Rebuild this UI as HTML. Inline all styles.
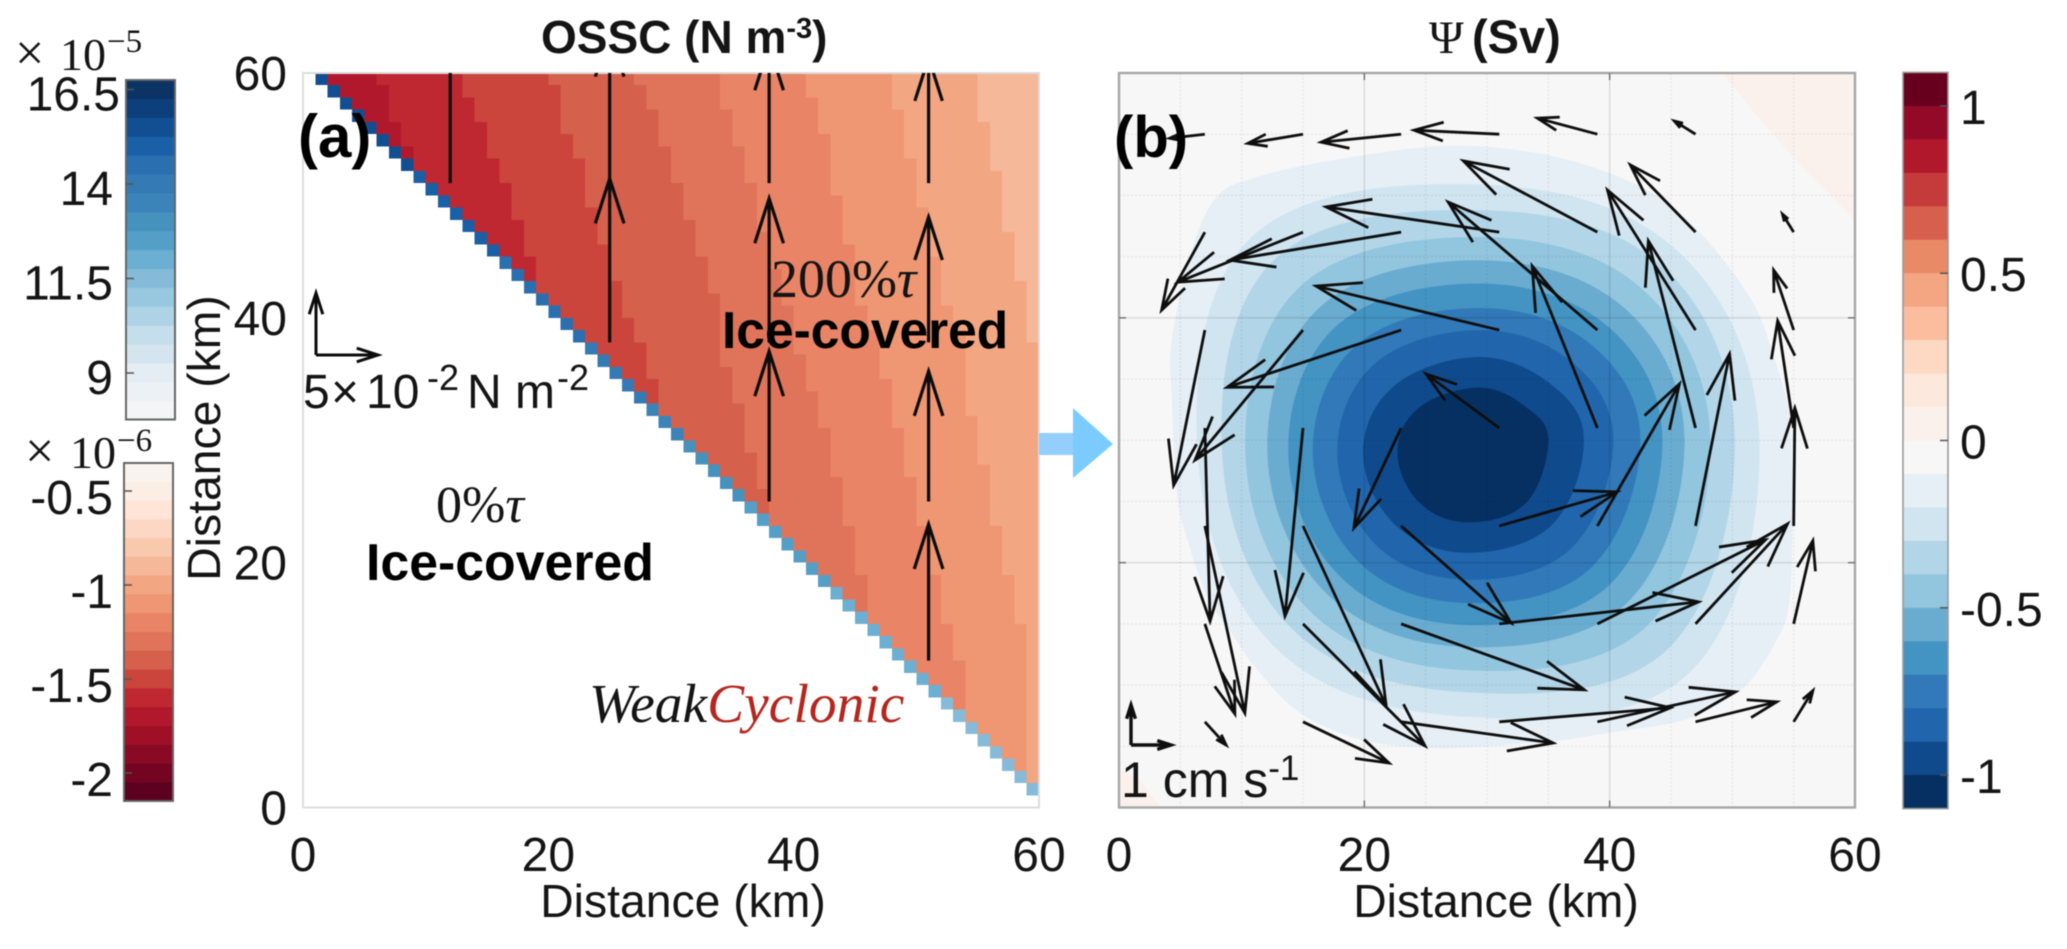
<!DOCTYPE html>
<html lang="en">
<head>
<meta charset="utf-8">
<title>OSSC and streamfunction panels</title>
<style>
  html, body { margin: 0; padding: 0; background: #fff; }
  #figure { display: block; filter: blur(0.55px); }
  text { font-family: "Liberation Sans", sans-serif; fill: #141414; }
  .tick { font-size: 48px; }
  .label { font-size: 46.3px; }
  .serif { font-family: "Liberation Serif", serif; }
</style>
</head>
<body>
<svg id="figure" xmlns="http://www.w3.org/2000/svg" width="2067" height="949" viewBox="0 0 2067 949">
  <defs>
    <clipPath id="clip-a"><rect x="303" y="73" width="736" height="734.5"/></clipPath>
    <clipPath id="clip-b"><rect x="1119" y="73" width="736" height="734.5"/></clipPath>
  </defs>

  <g id="cb-blue"></g>
  <g id="cb-red"></g>
  <g id="panel-a"></g>
  <g id="panel-b"></g>
  <g id="cb-psi"></g>

  <text class="serif" y="70" font-size="46" style="font-family:'Liberation Serif',serif"><tspan x="15" font-size="52">×</tspan><tspan x="60">10</tspan><tspan x="107" y="52" font-size="33">−5</tspan></text>
  <text class="serif" y="468" font-size="46" style="font-family:'Liberation Serif',serif"><tspan x="25" font-size="52">×</tspan><tspan x="70">10</tspan><tspan x="117" y="451" font-size="33">−6</tspan></text>

  <text x="541" y="53" font-size="46" font-weight="700">OSSC (N m<tspan font-size="29" dy="-15">-3</tspan><tspan dy="15">)</tspan></text>
  <text x="1429" y="53" font-size="47"><tspan style="font-family:'Liberation Serif',serif">Ψ</tspan><tspan x="1472" font-weight="700">(Sv)</tspan></text>

  <text class="label" text-anchor="middle" transform="translate(220,438) rotate(-90)">Distance (km)</text>
  <text class="label" text-anchor="middle" x="683" y="917">Distance (km)</text>
  <text class="label" text-anchor="middle" x="1496" y="917">Distance (km)</text>

  <text x="298" y="157" font-size="60" font-weight="700" style="fill:#000">(a)</text>
  <text x="1114" y="157" font-size="58" font-weight="700" style="fill:#000">(b)</text>

  <text y="408" font-size="48"><tspan x="303">5</tspan><tspan x="331">×</tspan><tspan x="366">10</tspan><tspan x="427" y="390" font-size="36">-2</tspan><tspan x="467" y="408">N m</tspan><tspan x="557" y="390" font-size="36">-2</tspan></text>

  <text class="serif" x="436" y="522" font-size="52" style="font-family:'Liberation Serif',serif">0%<tspan font-style="italic">τ</tspan></text>
  <text x="366" y="580" font-size="51.8" font-weight="700" style="fill:#000">Ice-covered</text>
  <text class="serif" x="771" y="297" font-size="54" style="font-family:'Liberation Serif',serif">200%<tspan font-style="italic">τ</tspan></text>
  <text x="722" y="348" font-size="51.5" font-weight="700" style="fill:#000">Ice-covered</text>
  <text x="589" y="722" font-size="55.5" font-style="italic" style="font-family:'Liberation Serif',serif">Weak<tspan style="fill:#b5261e">Cyclonic</tspan></text>

  <g>
    <rect x="1039" y="433" width="36" height="22" fill="#93cefc"/>
    <polygon points="1073,408 1113,444 1073,478" fill="#7bcbff"/>
  </g>

  <text x="1121" y="797" font-size="50">1 cm s<tspan font-size="35" dy="-17">-1</tspan></text>
</svg>

<script>
/* ---------- shared ticks ---------- */
const axisTicks = [0, 20, 40, 60];
const gridLines = [5, 10, 15, 20, 25, 30, 35, 40, 45, 50, 55];

/* ---------- left colorbars (units 1e-5 and 1e-6) ---------- */
const blueLevels = [16.5, 16, 15.5, 15, 14.5, 14, 13.5, 13, 12.5, 12, 11.5, 11, 10.5, 10, 9.5, 9, 8.5, 8];
const blueColors = ["#0b3364", "#0c3f7c", "#124f92", "#1a60a6", "#2a6fb0", "#347ab4", "#3a84ba", "#4692bf", "#549fc8", "#6bafd2", "#85bbd9", "#98c8e0", "#aed3e6", "#c5deeb", "#d5e5ef", "#e5edf4", "#ecf1f6", "#f3f5f7"];
const blueTicks = [16.5, 14, 11.5, 9];
const redLevels = [-0.4, -0.5, -0.6, -0.7, -0.8, -0.9, -1, -1.1, -1.2, -1.3, -1.4, -1.5, -1.6, -1.7, -1.8, -1.9, -2, -2.1];
const redColors = ["#f8f3ee", "#fbeee5", "#fee5d8", "#fcd7c3", "#f9c9ad", "#f5b898", "#f3a682", "#ef9673", "#e98466", "#e0745a", "#d5604c", "#cb453d", "#bf2830", "#b2182b", "#9f1027", "#8a0a26", "#730523", "#5c0120"];
const redTicks = [-0.5, -1, -1.5, -2];

/* ---------- panel (a): OSSC heat map ---------- */
const osscBandValues = [-1.7, -1.6, -1.5, -1.4, -1.3, -1.2, -1.1, -1, -0.9];
/* for each band boundary: first column (km) of the next band, one entry per row from the top */
const osscEdge0 = [6,7,7,7,8,8,9];
const osscEdge1 = [13,13,14,14,15,15,15,16,16,17,17,17,18,18,18,19,19];
const osscEdge2 = [20,21,21,21,21,22,22,23,23,23,23,24,24,24,25,25,25,26,26,26,27,27,28,28,28,29,29];
const osscEdge3 = [27,28,28,29,29,29,30,30,30,31,31,31,32,32,32,33,33,33,34,34,34,34,34,34,35,35,35,36,36,36,36,37,37,37,38,38];
const osscEdge4 = [34,34,34,35,35,35,36,36,36,37,37,37,37,38,38,38,39,39,39,40,40,40,40,41,41,41,42,42,42,43,43,43,43,44,44,44,44,45,45,45,45,46,46,46];
const osscEdge5 = [41,41,42,42,42,43,43,43,43,43,44,44,44,44,45,45,45,45,45,46,46,47,47,47,47,48,48,48,48,49,49,49,49,50,50,50,50,51,51,51,51,52,52,52,52,53,53,53,54,54,54,54];
const osscEdge6 = [48,48,48,49,49,49,49,50,50,50,50,51,51,51,51,52,52,52,52,53,53,54,54,54,54,54,54,54,55,55,55,55,56,56,56,56,56,57,57,57,57,58,58,58,58,59,59,59,59,59,59,59,59,59,59,59,59];
const osscEdge7 = [55,55,55,55,56,56,56,56,57,57,57,57,57,58,58,58,58,59,59,59,59,59,60,60,60,60,60,60,60,60,60,60,60,60,60,60,60,60,60,60,60,60,60,60,60,60,60,60,60,60,60,60,60,60,60,60,60,60,60];
const iceEdgeValues = [15.6,15.6,15.5,15.5,15.5,15.5,15.4,15.4,15.1,15,15,15,15,15,14.9,14.6,14.5,14.5,14.5,14.5,14.5,14.4,14.1,14,14,14,14,13.6,13.5,13.5,13.1,13,13,13,13,12.6,12.5,12.5,12.5,12.5,12.5,12.4,12.1,12,12,12,12,12,12,12,11.9,11.6,11.5,11.5,11.5,11.5,11.5,11.4,11.3];
/* wind-stress-like arrows of panel (a), values in 1e-2 N m-2 */
const tauArrowX = [12, 25, 25, 38, 38, 38, 51, 51, 51, 51];
const tauArrowY = [51, 51, 38, 51, 38, 25, 51, 38, 25, 12];
const tauArrowV = [14.1, 12.2, 13.2, 11.1, 11.6, 12.1, 10.1, 10.1, 10.5, 11];
const tauKeyValue = 5;

/* ---------- panel (b): stream function ---------- */
const psiBandValues = [1.05,0.95,0.85,0.75,0.65,0.55,0.45,0.35,0.25,0.15,0.05,-0.05,-0.15,-0.25,-0.35,-0.45,-0.55,-0.65,-0.75,-0.85,-0.95,-1.05];
const psiBandColors = ["#67001f","#920a27","#b2182b","#c53a3a","#d6604d","#e88a66","#f4a582","#fbbd9e","#fdd9c4","#fce8dc","#fbf1ec","#f7f7f7","#e6eff6","#d1e5f0","#b2d6e8","#92c5de","#6aacd0","#4393c3","#3179b8","#2166ac","#0f4a8c","#053061"];
const psiTicks = [1, 0.5, 0, -0.5, -1];
const psiContourLevels = [-0.1, -0.2, -0.3, -0.4, -0.5, -0.6, -0.7, -0.8, -0.9, -1];
/* contour outlines in km */
const psiContour01 = [[54.8,30],[54.9,23.2],[54.6,16.4],[53.3,13.1],[51.5,10.4],[49.7,8.9],[45.9,7.1],[39.9,6.1],[35.2,5.4],[28.1,4.9],[24.9,4.9],[19.8,5.5],[14.8,7.7],[11.3,11.2],[9,14.5],[7.2,17.2],[5.5,22.1],[4.7,25.9],[4.3,33.5],[4.3,38.2],[6,45.8],[8,49.9],[10.9,51.4],[16.4,52.7],[24.5,53.9],[29.4,54],[34.9,53.3],[40.3,51.7],[44.7,49.4],[48.4,45.8],[51.7,41.2],[53.3,37.1],[54.5,33]];
const psiContour02 = [[52.2,30],[46.5,11],[28.5,7.4],[12.8,13],[6.4,29],[10.8,46.6],[29.4,50.9],[45.5,45.5]];
const psiContour03 = [[50.2,30],[44.7,12.9],[28.5,9.4],[14.2,14.5],[8.4,29],[12.7,44.8],[29.4,48.8],[44.3,44.2]];
const psiContour04 = [[48.2,30],[43,14.8],[28.5,11.2],[15.6,16],[10.3,29],[14.8,42.6],[29.4,46.6],[42.6,42.4]];
const psiContour05 = [[46.1,30],[41.4,16.7],[28.5,13.1],[17,17.4],[12.1,29],[16.4,40.9],[29.4,44.7],[41.2,40.8]];
const psiContour06 = [[44.3,30],[40,18.2],[28.5,14.9],[18.2,18.7],[13.8,29],[17.8,39.4],[29.4,42.8],[39.85,39.3]];
const psiContour07 = [[42.5,30],[38.5,19.6],[28.5,16.7],[19.6,20],[15.8,29],[19.4,37.8],[29.4,40.8],[38.5,37.8]];
const psiContour08 = [[40.3,30],[36.9,21.2],[28.5,18.6],[21,21.4],[17.8,29],[20.9,36.3],[29.4,39],[36.9,36.4]];
const psiContour09 = [[37.9,30],[35.3,23.1],[28.5,20.8],[22.5,23.1],[19.9,29],[22.5,34.5],[29.4,36.8],[35.3,34.5]];
const psiContour10 = [[35,30],[33.2,24.9],[28.5,23.3],[24.5,24.9],[22.7,29],[24.5,32.7],[29.4,34.3],[33.2,32.7]];
const psiPositiveCornerNE = [[49.2,60],[52,56.5],[55.5,52.5],[60,48],[60,60]];
const psiPositiveCornerSW = [[0,3.2],[1.8,2.2],[3.4,0],[0,0]];
/* velocity grid, cm/s */
const quiverX = [7, 15, 23, 31, 39, 47, 55];
const quiverY = [55, 47, 39, 31, 23, 15, 7];
const quiverU = [
  [-0.88,-1.38,-2.00,-2.13,-1.50,-0.53,0],
  [-1.08,-3.13,-4.28,-4.33,-3.35,-1.63,-0.28],
  [-0.78,-2.70,-4.35,-4.58,-3.73,-2.20,-0.50],
  [0.13,-0.45,-1.18,-1.83,-1.63,-1.18,-0.40],
  [1.00,2.08,2.75,2.95,2.05,0.85,0.03],
  [0.75,3.05,4.58,4.98,4.20,2.30,0.48],
  [0.53,2.15,3.80,4.28,3.45,2.03,0.48]
];
const quiverV = [
  [-0.10,-0.23,-0.20,0.10,0.40,0.33,0],
  [-1.95,-1.25,-0.70,0.63,1.78,1.68,0.45],
  [-3.88,-3.25,-1.43,1.10,3.20,3.50,1.50],
  [-4.83,-4.70,-2.50,1.35,4.05,4.68,2.68],
  [-4.68,-4.50,-2.43,0.85,3.55,4.30,2.95],
  [-2.25,-3.05,-1.65,0.55,2.10,2.50,2.08],
  [-0.58,-1.03,-0.53,0.35,0.75,0.50,0.78]
];
const velocityKeyValue = 1;

/* ---------- scales ---------- */
const PX_PER_KM_X = 736 / 60;
const PX_PER_KM_Y = 734.5 / 60;
const xA = km => 303 + km * PX_PER_KM_X;
const xB = km => 1119 + km * PX_PER_KM_X;
const yKm = km => 807.5 - km * PX_PER_KM_Y;
const cbBlueY = v => 373 - (v - 9) * 37.8;
const cbRedY = v => 491 + (-0.5 - v) * 188;
const cbPsiY = v => 440.5 - v * 334.6;
const TAU_PX = 12.4;
const VEL_PX = 40;

function nearestColor(levels, colors, v) {
  let best = 0;
  levels.forEach((l, i) => { if (Math.abs(l - v) < Math.abs(levels[best] - v)) best = i; });
  return colors[best];
}
function make(tag, attrs, parent) {
  const el = document.createElementNS("http://www.w3.org/2000/svg", tag);
  for (const k in attrs) el.setAttribute(k, attrs[k]);
  parent.appendChild(el);
  return el;
}
function arrowPath(x0, y0, x1, y1) {
  const len = Math.hypot(x1 - x0, y1 - y0);
  if (len < 0.5) return "";
  const barb = Math.min(0.36 * len, 47);
  const ang = Math.atan2(y0 - y1, x0 - x1);
  const spread = 0.31;
  const ax = x1 + barb * Math.cos(ang + spread), ay = y1 + barb * Math.sin(ang + spread);
  const bx = x1 + barb * Math.cos(ang - spread), by = y1 + barb * Math.sin(ang - spread);
  return `M${x0} ${y0}L${x1} ${y1}M${ax} ${ay}L${x1} ${y1}L${bx} ${by}`;
}
function closedSpline(points, xs) {
  const p = points.map(q => [xs(q[0]), yKm(q[1])]);
  const n = p.length;
  /* sparse outlines need stronger tangents so that they stay round */
  const k = n <= 8 ? 5.5 : 6;
  let d = `M${p[0][0]} ${p[0][1]}`;
  for (let i = 0; i < n; i++) {
    const a = p[(i - 1 + n) % n], b = p[i], c = p[(i + 1) % n], e = p[(i + 2) % n];
    d += `C${b[0] + (c[0] - a[0]) / k} ${b[1] + (c[1] - a[1]) / k} ${c[0] - (e[0] - b[0]) / k} ${c[1] - (e[1] - b[1]) / k} ${c[0]} ${c[1]}`;
  }
  return d + "Z";
}

/* ---------- left colorbars ---------- */
const cbBlue = document.getElementById("cb-blue");
blueLevels.forEach((v, i) => {
  const r = make("rect", { x: 126, y: cbBlueY(v + 0.25), width: 49, height: cbBlueY(v - 0.25) - cbBlueY(v + 0.25) + 0.5, fill: blueColors[i] }, cbBlue);
  
  
});
const blueFrame = make("rect", { x: 126, y: 80, width: 49, height: 339.5, fill: "none", stroke: "#666", "stroke-width": 2 }, cbBlue);


blueTicks.forEach(v => {
  const t = make("line", { x1: 126, x2: 134, y1: cbBlueY(v), y2: cbBlueY(v), stroke: "#555", "stroke-width": 1.5 }, cbBlue);
  
  
  const l = make("text", { x: v >= 16 ? 120 : 113, y: cbBlueY(v) + 21, "text-anchor": "end", class: "tick" }, cbBlue);
  l.textContent = String(v);
  
  
});

const cbRed = document.getElementById("cb-red");
redLevels.forEach((v, i) => {
  const r = make("rect", { x: 124, y: cbRedY(v + 0.05), width: 49, height: cbRedY(v - 0.05) - cbRedY(v + 0.05) + 0.5, fill: redColors[i] }, cbRed);
  
  
});
const redFrame = make("rect", { x: 124, y: 463, width: 49, height: 338, fill: "none", stroke: "#666", "stroke-width": 2 }, cbRed);


redTicks.forEach(v => {
  const t = make("line", { x1: 124, x2: 132, y1: cbRedY(v), y2: cbRedY(v), stroke: "#555", "stroke-width": 1.5 }, cbRed);
  
  
  const l = make("text", { x: 113, y: cbRedY(v) + 23, "text-anchor": "end", class: "tick" }, cbRed);
  l.textContent = String(v);
  
  
});

/* ---------- panel (a) ---------- */
const panelA = document.getElementById("panel-a");
const heat = make("g", { "shape-rendering": "crispEdges" }, panelA);


const osscEdges = [osscEdge0, osscEdge1, osscEdge2, osscEdge3, osscEdge4, osscEdge5, osscEdge6, osscEdge7];
function bandIndex(col, row) {
  let n = 0;
  osscEdges.forEach(e => { if (row >= e.length || col >= e[row]) n++; });
  return n;
}
for (let row = 0; row < 59; row++) {
  const edgeCell = make("rect", { x: xA(row + 1), y: yKm(60 - row), width: PX_PER_KM_X, height: PX_PER_KM_Y, fill: nearestColor(blueLevels, blueColors, iceEdgeValues[row]) }, heat);
  
  
  for (let col = row + 2; col < 60; col++) {
    const value = osscBandValues[bandIndex(col, row)];
    const cell = make("rect", { x: xA(col), y: yKm(60 - row), width: PX_PER_KM_X + 0.5, height: PX_PER_KM_Y + 0.5, fill: nearestColor(redLevels, redColors, value) }, heat);
    
    
  }
}
const frameA = make("path", { d: `M${xA(0)} ${yKm(0)}V${yKm(60)}H${xA(60)}V${yKm(0)}H${xA(0)}`, fill: "none", stroke: "#dcdcdc", "stroke-width": 2 }, panelA);



const tauGroup = make("g", { "clip-path": "url(#clip-a)" }, panelA);


tauArrowX.forEach((x, i) => {
  const x0 = xA(x), y0 = yKm(tauArrowY[i]);
  const a = make("path", { d: arrowPath(x0, y0, x0, y0 - tauArrowV[i] * TAU_PX), fill: "none", stroke: "#0c0c0c", "stroke-width": 3.2 }, tauGroup);
  
  
});
const tauKeyUp = make("path", { d: arrowPath(316, 355, 316, 355 - tauKeyValue * TAU_PX), fill: "none", stroke: "#0c0c0c", "stroke-width": 3 }, panelA);


const tauKeyRight = make("path", { d: arrowPath(316, 355, 316 + tauKeyValue * TAU_PX, 355), fill: "none", stroke: "#0c0c0c", "stroke-width": 3 }, panelA);



axisTicks.forEach(v => {
  const l = make("text", { x: 287, y: yKm(v) + 17, "text-anchor": "end", class: "tick" }, panelA);
  l.textContent = String(v);
  
  
  const m = make("text", { x: xA(v), y: 871, "text-anchor": "middle", class: "tick" }, panelA);
  m.textContent = String(v);
  
  
});

/* ---------- panel (b) ---------- */
const panelB = document.getElementById("panel-b");
const psiBg = make("rect", { x: xB(0), y: yKm(60), width: 736, height: 734.5, fill: psiBandColors[11] }, panelB);


[psiPositiveCornerNE, psiPositiveCornerSW].forEach(pts => {
  const c = make("polygon", { points: pts.map(q => `${xB(q[0])},${yKm(q[1])}`).join(" "), fill: nearestColor(psiBandValues, psiBandColors, 0.05) }, panelB);
  
  
});
const psiContours = [psiContour01, psiContour02, psiContour03, psiContour04, psiContour05, psiContour06, psiContour07, psiContour08, psiContour09, psiContour10];
psiContours.forEach((pts, i) => {
  const c = make("path", { d: closedSpline(pts, xB), fill: nearestColor(psiBandValues, psiBandColors, psiContourLevels[i] - 0.05) }, panelB);
  
  
});
gridLines.forEach(v => {
  const major = v === 20 || v === 40;
  const style = { stroke: major ? "rgba(0,0,0,0.1)" : "rgba(0,0,0,0.06)", "stroke-width": 1.6 };
  if (!major) style["stroke-dasharray"] = "2 2";
  const gx = make("line", Object.assign({ x1: xB(v), x2: xB(v), y1: yKm(0), y2: yKm(60) }, style), panelB);
  
  
  const gy = make("line", Object.assign({ x1: xB(0), x2: xB(60), y1: yKm(v), y2: yKm(v) }, style), panelB);
  
  
});
const frameB = make("rect", { x: xB(0), y: yKm(60), width: 736, height: 734.5, fill: "none", stroke: "#a6a6a6", "stroke-width": 2.4 }, panelB);


[20, 40].forEach(v => {
  [[xB(v), yKm(0), xB(v), yKm(0) - 7], [xB(v), yKm(60), xB(v), yKm(60) + 7], [xB(0), yKm(v), xB(0) + 7, yKm(v)], [xB(60), yKm(v), xB(60) - 7, yKm(v)]].forEach(s => {
    const t = make("line", { x1: s[0], y1: s[1], x2: s[2], y2: s[3], stroke: "#777", "stroke-width": 1.5 }, panelB);
    
    
  });
});
axisTicks.forEach(v => {
  const m = make("text", { x: xB(v), y: 871, "text-anchor": "middle", class: "tick" }, panelB);
  m.textContent = String(v);
  
  
});
const quiver = make("g", { "clip-path": "url(#clip-b)" }, panelB);


quiverY.forEach((y, r) => {
  quiverX.forEach((x, c) => {
    const x0 = xB(x), y0 = yKm(y);
    const d = arrowPath(x0, y0, x0 + quiverU[r][c] * VEL_PX, y0 - quiverV[r][c] * VEL_PX);
    const a = make("path", { d: d, fill: "none", stroke: "#0e0e0e", "stroke-width": 2.8 }, quiver);
    
    
  });
});
const velKeyUp = make("path", { d: arrowPath(1131, 745, 1131, 745 - velocityKeyValue * VEL_PX), fill: "none", stroke: "#0e0e0e", "stroke-width": 3.4 }, panelB);


const velKeyRight = make("path", { d: arrowPath(1131, 745, 1131 + velocityKeyValue * VEL_PX, 745), fill: "none", stroke: "#0e0e0e", "stroke-width": 3.4 }, panelB);



/* ---------- psi colorbar ---------- */
const cbPsi = document.getElementById("cb-psi");
psiBandValues.forEach((v, i) => {
  const r = make("rect", { x: 1903, y: cbPsiY(v + 0.05), width: 45, height: cbPsiY(v - 0.05) - cbPsiY(v + 0.05) + 0.5, fill: psiBandColors[i] }, cbPsi);
  
  
});
const psiFrame = make("rect", { x: 1903, y: 72.4, width: 45, height: 736.2, fill: "none", stroke: "#9a9a9a", "stroke-width": 1.6 }, cbPsi);


psiTicks.forEach(v => {
  const t = make("line", { x1: 1948, x2: 1940, y1: cbPsiY(v), y2: cbPsiY(v), stroke: "#555", "stroke-width": 1.5 }, cbPsi);
  
  
  const l = make("text", { x: 1960, y: cbPsiY(v) + 18, class: "tick" }, cbPsi);
  l.textContent = String(v);
  
  
});
</script>
</body>
</html>
